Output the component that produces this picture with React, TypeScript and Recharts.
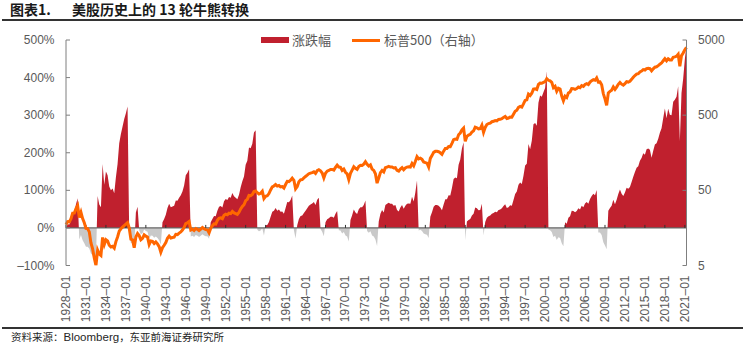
import { ComposedChart, Area, Line, XAxis, YAxis, ReferenceLine } from 'recharts';

const START_YEAR = 1928;
const END_YEAR = 2021.25;

// x axis tick years (labelled yyyy–01)
const xTicks = [
    1928, 1931, 1934, 1937, 1940, 1943, 1946, 1949, 1952, 1955, 1958, 1961, 1964, 1967, 1970, 1973,
    1976, 1979, 1982, 1985, 1988, 1991, 1994, 1997, 2000, 2003, 2006, 2009, 2012, 2015, 2018, 2021,
];
const pctTicks = [-100, 0, 100, 200, 300, 400, 500];
const spTicks = [5, 50, 500, 5000];

// S&P 500, quarterly (Jan / Apr / Jul / Oct)
const sp500 = [
    17.5, 19.2, 19.0, 21.0, // 1928
    24.9, 25.0, 28.5, 31.3, // 1929
    21.7, 25.5, 21.0, 18.5, // 1930
    15.6, 15.5, 14.0, 10.0, // 1931
    8.3, 6.3, 5.0, 8.0, // 1932
    7.1, 6.8, 11.8, 9.5, // 1933
    11.0, 10.6, 9.3, 8.8, // 1934
    9.0, 8.5, 10.4, 12.0, // 1935
    14.3, 15.4, 16.2, 17.0, // 1936
    17.8, 18.6, 15.8, 11.2, // 1937
    11.0, 8.6, 12.0, 13.3, // 1938
    12.5, 11.0, 11.5, 12.8, // 1939
    12.3, 12.0, 9.5, 10.6, // 1940
    10.5, 9.8, 10.3, 9.7, // 1941
    8.9, 7.5, 8.6, 9.3, // 1942
    10.1, 11.5, 12.3, 11.6, // 1943
    11.8, 11.9, 13.0, 12.9, // 1944
    13.5, 14.0, 14.8, 16.0, // 1945
    18.0, 18.5, 19.2, 14.8, // 1946
    15.2, 14.6, 15.5, 15.2, // 1947
    14.6, 15.2, 16.0, 15.4, // 1948
    15.0, 14.9, 13.6, 15.7, // 1949
    16.9, 17.9, 17.8, 19.9, // 1950
    21.2, 21.5, 21.0, 23.3, // 1951
    24.1, 23.6, 24.8, 24.5, // 1952
    26.2, 25.0, 24.5, 23.9, // 1953
    25.5, 28.3, 30.5, 32.2, // 1954
    36.5, 37.9, 42.7, 42.4, // 1955
    44.0, 48.2, 49.0, 46.5, // 1956
    44.7, 45.7, 48.5, 39.0, // 1957
    41.7, 42.3, 45.3, 50.6, // 1958
    55.6, 57.1, 59.7, 57.0, // 1959
    58.0, 55.7, 56.1, 53.7, // 1960
    59.7, 65.8, 65.4, 68.0, // 1961
    72.6, 68.0, 52.3, 56.2, // 1962
    65.1, 69.0, 69.7, 73.0, // 1963
    76.4, 79.5, 83.2, 84.9, // 1964
    86.1, 88.2, 84.1, 91.4, // 1965
    94.0, 91.0, 85.0, 73.2, // 1966
    84.5, 90.0, 92.0, 95.0, // 1967
    95.0, 93.0, 101.0, 108.4, // 1968
    102.0, 101.0, 92.0, 96.0, // 1969
    87.0, 83.0, 69.3, 84.0, // 1970
    93.0, 103.0, 98.0, 95.0, // 1971
    103.9, 107.7, 107.2, 111.6, // 1972
    120.2, 111.0, 105.0, 109.0, // 1973
    96.0, 92.0, 83.0, 62.3, // 1974
    73.0, 86.0, 92.0, 88.0, // 1975
    100.0, 102.0, 104.0, 102.0, // 1976
    102.0, 99.0, 100.0, 92.0, // 1977
    90.0, 96.0, 100.0, 94.0, // 1978
    99.0, 102.0, 103.0, 102.0, // 1979
    114.0, 106.0, 121.0, 140.5, // 1980
    131.0, 134.0, 129.0, 119.0, // 1981
    117.0, 115.0, 102.4, 133.0, // 1982
    145.0, 160.0, 165.0, 165.0, // 1983
    163.0, 158.0, 151.0, 166.0, // 1984
    180.0, 180.0, 191.0, 190.0, // 1985
    211.0, 236.0, 240.0, 238.0, // 1986
    274.0, 289.0, 318.0, 336.0, // 1987
    224.0, 261.0, 272.0, 278.0, // 1988
    297.0, 309.0, 346.0, 340.0, // 1989
    329.0, 331.0, 368.0, 295.5, // 1990
    343.0, 375.0, 387.0, 392.0, // 1991
    409.0, 414.0, 424.0, 419.0, // 1992
    438.0, 440.0, 448.0, 467.0, // 1993
    481.0, 451.0, 458.0, 472.0, // 1994
    470.0, 514.0, 562.0, 582.0, // 1995
    636.0, 654.0, 640.0, 705.0, // 1996
    786.0, 801.0, 954.0, 914.0, // 1997
    980.0, 1112.0, 1120.0, 1098.0, // 1998
    1280.0, 1335.0, 1328.0, 1362.0, // 1999
    1394.0, 1527.0, 1455.0, 1430.0, // 2000
    1366.0, 1160.0, 1211.0, 1040.0, // 2001
    1140.0, 1111.0, 900.0, 777.0, // 2002
    895.0, 860.0, 985.0, 1020.0, // 2003
    1131.0, 1126.0, 1101.0, 1130.0, // 2004
    1181.0, 1157.0, 1234.0, 1207.0, // 2005
    1280.0, 1311.0, 1276.0, 1377.0, // 2006
    1438.0, 1482.0, 1455.0, 1565.0, // 2007
    1378.0, 1385.0, 1267.0, 968.0, // 2008
    825.0, 676.0, 987.0, 1036.0, // 2009
    1074.0, 1186.0, 1101.0, 1183.0, // 2010
    1286.0, 1363.0, 1292.0, 1253.0, // 2011
    1312.0, 1398.0, 1379.0, 1412.0, // 2012
    1498.0, 1597.0, 1685.0, 1757.0, // 2013
    1783.0, 1884.0, 1931.0, 2018.0, // 2014
    1995.0, 2086.0, 2104.0, 2079.0, // 2015
    1940.0, 2065.0, 2174.0, 2198.0, // 2016
    2279.0, 2384.0, 2470.0, 2648.0, // 2017
    2824.0, 2648.0, 2816.0, 2711.0, // 2018
    2704.0, 2946.0, 2980.0, 3037.0, // 2019
    3226.0, 2237.0, 3100.0, 3360.0, // 2020
    3714.0, 3973.0, // 2021
];

// 涨跌幅 (%), cumulative move since the start of each bull / bear phase, same quarters
const swing = [
    0, 10, 9, 20, // 1928
    42, 43, 63, 79, // 1929
    -31, -19, -33, -41, // 1930
    -50, -50, -55, -68, // 1931
    -73, -80, -86, 85, // 1932
    62, 55, 170, 115, // 1933
    150, 140, 110, 100, // 1934
    105, 92, 135, 170, // 1935
    225, 250, 270, 290, // 1936
    305, 323, -15, -40, // 1937
    -41, -54, 41, 56, // 1938
    -6, -17, -14, -4, // 1939
    -8, -10, -29, -20, // 1940
    -21, -26, -23, -27, // 1941
    -33, -44, 15, 24, // 1942
    35, 53, 64, 55, // 1943
    57, 59, 73, 72, // 1944
    80, 87, 97, 113, // 1945
    140, 147, 156, -23, // 1946
    -21, -24, -19, -21, // 1947
    -24, -21, -17, -20, // 1948
    -22, -22, -29, 15, // 1949
    24, 32, 31, 46, // 1950
    56, 58, 54, 71, // 1951
    77, 74, 82, 80, // 1952
    93, 84, 80, 76, // 1953
    88, 108, 124, 137, // 1954
    168, 179, 214, 212, // 1955
    224, 254, 260, -5, // 1956
    -9, -7, -1, -20, // 1957
    7, 8, 16, 30, // 1958
    43, 46, 53, 46, // 1959
    49, 43, 44, 38, // 1960
    53, 69, 68, 74, // 1961
    86, -6, -28, 7, // 1962
    24, 32, 33, 40, // 1963
    46, 52, 59, 62, // 1964
    65, 69, 61, 75, // 1965
    80, -3, -10, -22, // 1966
    15, 23, 26, 30, // 1967
    30, 27, 38, 45, // 1968
    -6, -7, -15, -11, // 1969
    -20, -23, -36, 21, // 1970
    34, 49, 41, 37, // 1971
    50, 55, 55, 61, // 1972
    73, -8, -13, -9, // 1973
    -20, -23, -31, -48, // 1974
    17, 38, 48, 41, // 1975
    61, 64, 67, 64, // 1976
    64, 59, 61, 48, // 1977
    44, 54, 61, 51, // 1978
    59, 64, 65, 64, // 1979
    83, 70, 94, 126, // 1980
    -7, -5, -8, -15, // 1981
    -17, -18, -27, 30, // 1982
    42, 56, 61, 61, // 1983
    59, 54, 47, 62, // 1984
    76, 76, 87, 86, // 1985
    106, 130, 134, 132, // 1986
    168, 182, 211, 228, // 1987
    -33, 17, 21, 24, // 1988
    33, 38, 54, 52, // 1989
    47, 48, 64, -20, // 1990
    16, 27, 31, 33, // 1991
    38, 40, 43, 42, // 1992
    48, 49, 52, 58, // 1993
    63, 53, 55, 60, // 1994
    59, 74, 90, 97, // 1995
    115, 121, 117, 139, // 1996
    166, 171, 223, 209, // 1997
    232, 276, 279, 272, // 1998
    333, 352, 349, 361, // 1999
    372, 417, -5, -6, // 2000
    -11, -24, -21, -32, // 2001
    -25, -27, -41, -49, // 2002
    15, 11, 27, 31, // 2003
    46, 45, 42, 45, // 2004
    52, 49, 59, 55, // 2005
    65, 69, 64, 77, // 2006
    85, 91, 87, 101, // 2007
    -12, -12, -19, -38, // 2008
    -47, -57, 46, 53, // 2009
    59, 75, 63, 75, // 2010
    90, 102, 91, 85, // 2011
    94, 107, 104, 109, // 2012
    122, 136, 149, 160, // 2013
    164, 179, 186, 199, // 2014
    195, 209, 211, 208, // 2015
    187, 205, 222, 225, // 2016
    237, 253, 265, 292, // 2017
    318, 292, 317, 301, // 2018
    300, 336, 341, 349, // 2019
    377, 231, 359, 397, // 2020
    449, 487, // 2021
];

const data = sp500.map((v, i) => ({ t: START_YEAR + i / 4, sp: v, swing: swing[i] }));

const RED = '#c0202e';
const GRAY = '#c9c9c9';
const ORANGE = '#ff6600';
const AXIS = '#7f7f7f';
const LABEL = '#595959';
const NUM_FONT = '"Liberation Sans", Arial, sans-serif';
const CJK_FONT = '"Noto Sans CJK SC", "Liberation Sans", sans-serif';

const PLOT_TOP = 40;
const PLOT_BOTTOM = 265.5;

function XTick({ x, payload }: any) {
    return (
        <text
            transform={`translate(${x},${PLOT_BOTTOM + 10}) rotate(-90)`}
            textAnchor="end"
            dominantBaseline="central"
            fontSize={12}
            fontFamily={NUM_FONT}
            fill={LABEL}
        >
            {`${payload.value}–01`}
        </text>
    );
}

function PctTick({ x, y, payload }: any) {
    const axisX = x + 11.5;
    const v = payload.value;
    return (
        <g>
            <line x1={axisX} x2={axisX + 4} y1={y} y2={y} stroke={AXIS} />
            <text x={x} y={y} textAnchor="end" dominantBaseline="central" fontSize={12} fontFamily={NUM_FONT} fill={LABEL}>
                {v < 0 ? `–${Math.abs(v)}%` : `${v}%`}
            </text>
        </g>
    );
}

function SpTick({ x, y, payload }: any) {
    const axisX = x - 11.5;
    return (
        <g>
            <line x1={axisX - 4} x2={axisX} y1={y} y2={y} stroke={AXIS} />
            <text x={x} y={y} textAnchor="start" dominantBaseline="central" fontSize={12} fontFamily={NUM_FONT} fill={LABEL}>
                {payload.value}
            </text>
        </g>
    );
}

export default function App() {
    return (
        <div style={{ position: 'absolute', left: 0, top: 0, width: 750, height: 349, background: '#fff', overflow: 'hidden' }}>
            {/* title */}
            <div style={{ position: 'absolute', left: 10, top: 1, fontFamily: CJK_FONT, fontWeight: 700, fontSize: 14, color: '#1a1a1a', lineHeight: '17px', whiteSpace: 'pre' }}>
                图表1.
            </div>
            <div style={{ position: 'absolute', left: 72, top: 1, fontFamily: CJK_FONT, fontWeight: 700, fontSize: 14, color: '#1a1a1a', lineHeight: '17px', whiteSpace: 'pre' }}>
                美股历史上的 13 轮牛熊转换
            </div>
            <div style={{ position: 'absolute', left: 2, top: 19, width: 741, height: 2, background: '#333' }} />

            <ComposedChart width={750} height={349} data={data} margin={{ top: PLOT_TOP, right: 0, bottom: 0, left: 0 }}>
                <defs>
                    <linearGradient id="swingFill" gradientUnits="userSpaceOnUse" x1="0" y1={PLOT_TOP} x2="0" y2={PLOT_BOTTOM}>
                        <stop offset={5 / 6} stopColor={RED} />
                        <stop offset={5 / 6} stopColor={GRAY} />
                    </linearGradient>
                </defs>
                <XAxis
                    dataKey="t"
                    type="number"
                    domain={[START_YEAR, END_YEAR]}
                    ticks={xTicks}
                    interval={0}
                    height={349 - PLOT_BOTTOM}
                    axisLine={false}
                    tickLine={false}
                    tick={<XTick />}
                />
                <YAxis
                    yAxisId="pct"
                    domain={[-100, 500]}
                    ticks={pctTicks}
                    interval={0}
                    width={66}
                    axisLine={{ stroke: AXIS }}
                    tickLine={false}
                    tickSize={6}
                    tickMargin={5.5}
                    tick={<PctTick />}
                />
                <YAxis
                    yAxisId="sp"
                    orientation="right"
                    scale="log"
                    domain={[5, 5000]}
                    allowDataOverflow
                    ticks={spTicks}
                    interval={0}
                    width={63.5}
                    axisLine={{ stroke: AXIS }}
                    tickLine={false}
                    tickSize={6}
                    tickMargin={5.5}
                    tick={<SpTick />}
                />
                <Area
                    yAxisId="pct"
                    dataKey="swing"
                    type="linear"
                    baseValue={0}
                    stroke="none"
                    fill="url(#swingFill)"
                    fillOpacity={1}
                    isAnimationActive={false}
                />
                <ReferenceLine yAxisId="pct" y={0} stroke="#666" strokeWidth={1.3} />
                {xTicks.map((yr) => (
                    <ReferenceLine
                        key={yr}
                        yAxisId="pct"
                        segment={[{ x: yr, y: 0 }, { x: yr, y: 8 }]}
                        stroke="#333"
                    />
                ))}
                <Line
                    yAxisId="sp"
                    dataKey="sp"
                    type="linear"
                    stroke={ORANGE}
                    strokeWidth={3}
                    dot={false}
                    isAnimationActive={false}
                />
            </ComposedChart>

            {/* legend */}
            <div style={{ position: 'absolute', left: 261, top: 37, width: 28, height: 6, background: RED }} />
            <div style={{ position: 'absolute', left: 292, top: 31, fontFamily: CJK_FONT, fontSize: 13, color: LABEL, lineHeight: '18px', whiteSpace: 'nowrap' }}>
                涨跌幅
            </div>
            <div style={{ position: 'absolute', left: 352, top: 39, width: 28, height: 3, background: ORANGE }} />
            <div style={{ position: 'absolute', left: 384, top: 31, fontFamily: CJK_FONT, fontSize: 13, color: LABEL, lineHeight: '18px', whiteSpace: 'nowrap' }}>
                标普500（右轴）
            </div>

            {/* source */}
            <div style={{ position: 'absolute', left: 2, top: 327, width: 741, height: 1.5, background: '#333' }} />
            <div style={{ position: 'absolute', left: 11, top: 330, fontFamily: CJK_FONT, fontSize: 10.5, color: '#262626', lineHeight: '14px', whiteSpace: 'nowrap' }}>
                资料来源：<span style={{ fontFamily: NUM_FONT, fontSize: 11.5 }}>Bloomberg</span>，东亚前海证券研究所
            </div>
        </div>
    );
}
